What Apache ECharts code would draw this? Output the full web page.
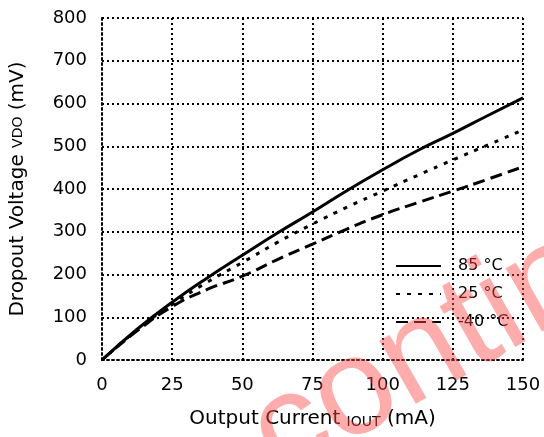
<!DOCTYPE html>
<html><head><meta charset="utf-8">
<script src="https://cdn.jsdelivr.net/npm/echarts@6/dist/echarts.min.js"></script>
<style>html,body{margin:0;padding:0;background:#fff}#c{width:544px;height:437px}</style>
</head><body><div id="c"></div>
<script>
const current = [0, 12.5, 25, 37.5, 50, 62.5, 75, 87.5, 100, 112.5, 125, 137.5, 150];
const v85 = [0, 72, 135, 192, 245, 297, 346, 397, 445, 490, 530, 572, 613];
const v25 = [0, 70, 130, 182, 228, 275, 318, 358, 395, 432, 468, 503, 538];
const vm40 = [0, 68, 125, 165, 196, 235, 271, 307, 340, 368, 395, 423, 452];
const seriesNames = ['85 °C', '25 °C', '-40 °C'];
const watermark = 'contin';

const pair = v => current.map((x, i) => [x, v[i]]);
const font = 'DejaVu Sans';
const chart = echarts.init(document.getElementById('c'));
const dotted = {color: '#000', width: 2, type: [2, 3]};
chart.setOption({
  animation: false,
  grid: {left: 102, right: 21, top: 18, bottom: 77},
  legend: {
    orient: 'vertical', left: 390, top: 253, itemWidth: 45, itemHeight: 14, itemGap: 12,
    itemStyle: {opacity: 0},
    textStyle: {fontFamily: font, fontSize: 16, lineHeight: 14, color: '#000', padding: [0, 0, 0, 12]},
    data: seriesNames
  },
  xAxis: {
    type: 'value', min: 0, max: 150, interval: 25,
    name: 'Output Current {s|IOUT} (mA)', nameLocation: 'middle', nameGap: 49,
    nameTextStyle: {fontFamily: font, fontSize: 20, color: '#000', rich: {s: {fontSize: 14, padding: [6,0,0,0], fontFamily: font}}},
    axisLine: {show: true, lineStyle: dotted}, axisTick: {show: false},
    splitLine: {show: true, lineStyle: dotted},
    axisLabel: {fontFamily: font, fontSize: 18, color: '#000', margin: 16}
  },
  yAxis: {
    type: 'value', min: 0, max: 800, interval: 100,
    name: 'Dropout Voltage {s|VDO} (mV)', nameLocation: 'middle', nameGap: 74,
    nameTextStyle: {fontFamily: font, fontSize: 20, color: '#000', rich: {s: {fontSize: 14, fontFamily: font}}},
    axisLine: {show: true, lineStyle: dotted}, axisTick: {show: false},
    splitLine: {show: true, lineStyle: dotted},
    axisLabel: {fontFamily: font, fontSize: 18, color: '#000', margin: 15}
  },
  graphic: [{
    type: 'text', x: 262, y: 448, rotation: 0.52, z: 100, silent: true,
    style: {text: watermark, fontFamily: 'Liberation Sans', fontSize: 138, fill: 'rgba(255,70,70,0.45)',
            align: 'left', verticalAlign: 'middle'}
  }],
  series: [
    {name: seriesNames[0], type: 'line', data: pair(v85), symbol: 'none', smooth: true,
     lineStyle: {color: '#000', width: 3, type: 'solid'}, itemStyle: {color: '#000'}},
    {name: seriesNames[1], type: 'line', data: pair(v25), symbol: 'none', smooth: true,
     lineStyle: {color: '#000', width: 3, type: [4, 7]}, itemStyle: {color: '#000'}},
    {name: seriesNames[2], type: 'line', data: pair(vm40), symbol: 'none', smooth: true,
     lineStyle: {color: '#000', width: 3, type: [12, 6]}, itemStyle: {color: '#000'}}
  ]
});
</script></body></html>
